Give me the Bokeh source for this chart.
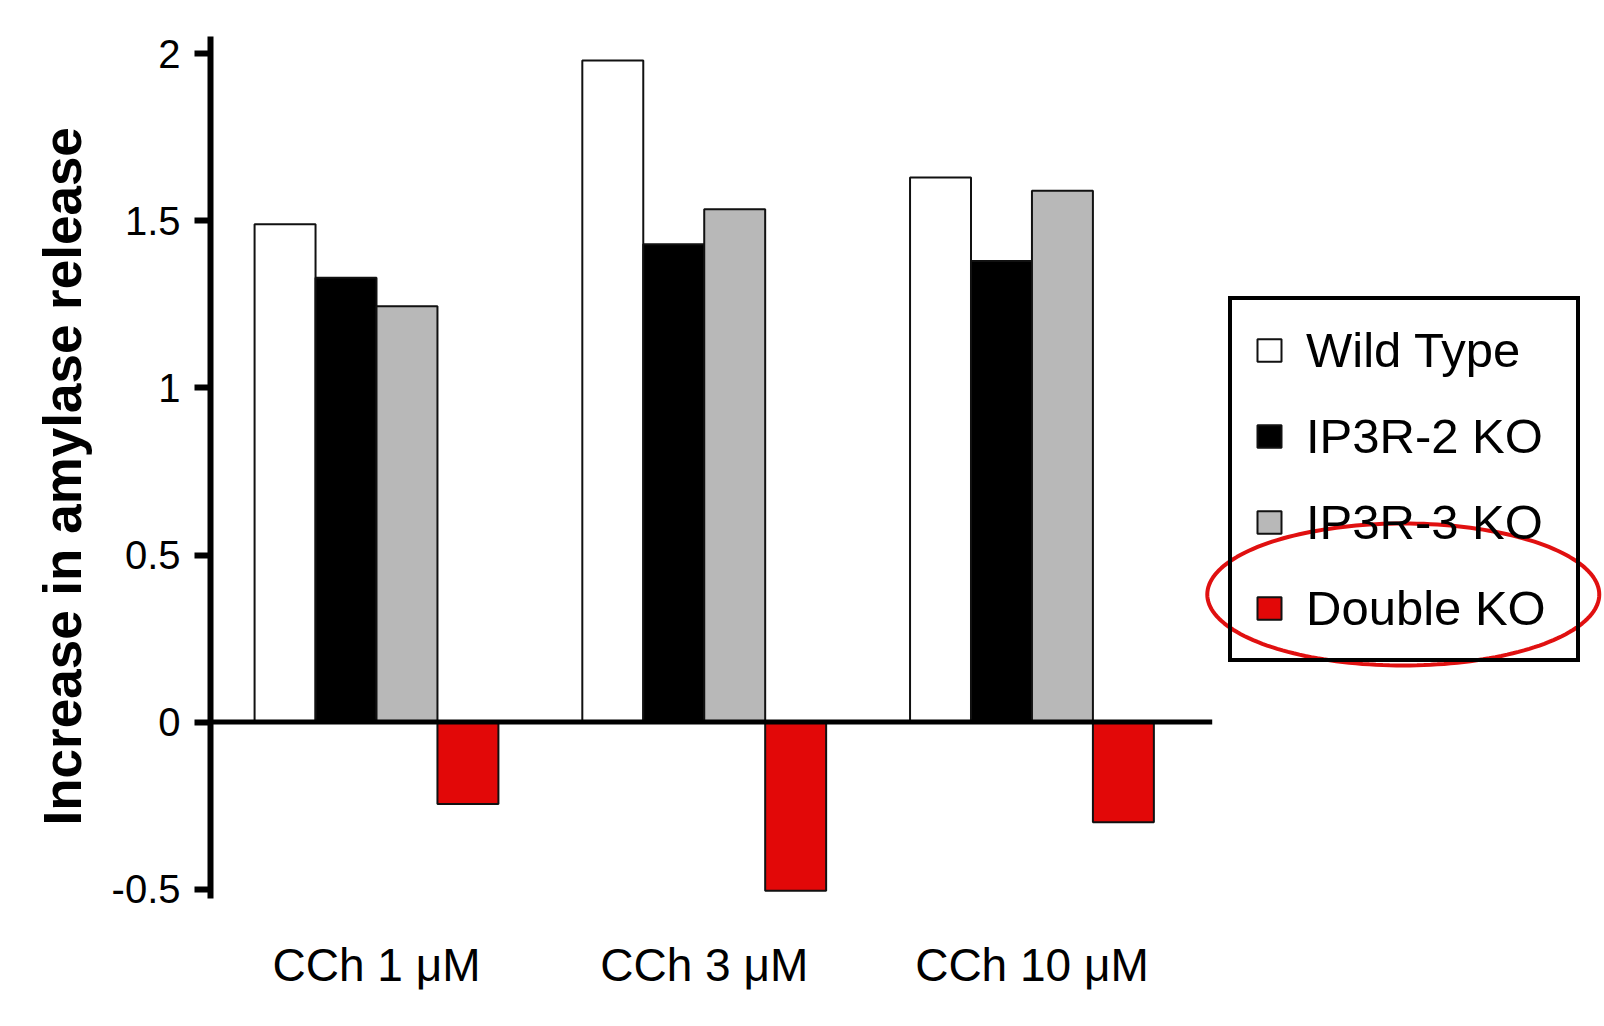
import numpy as np
from bokeh.plotting import figure
from bokeh.models import Range1d, FixedTicker, Legend, LegendItem, PolyAnnotation, Title
from bokeh.embed import file_html
from bokeh.resources import INLINE

# ---- data ----
categories = ["CCh 1 μM", "CCh 3 μM", "CCh 10 μM"]
series = ["Wild Type", "IP3R-2 KO", "IP3R-3 KO", "Double KO"]
wild_type = [1.49, 1.98, 1.63]
ip3r2_ko = [1.33, 1.43, 1.38]
ip3r3_ko = [1.245, 1.535, 1.59]
double_ko = [-0.245, -0.505, -0.30]
colors = ["#ffffff", "#000000", "#b8b8b8", "#e20808"]
y_tick_values = [-0.5, 0, 0.5, 1, 1.5, 2]
y_tick_labels = ["-0.5", "0", "0.5", "1", "1.5", "2"]

FONT = "Liberation Sans"
values = [wild_type, ip3r2_ko, ip3r3_ko, double_ko]
bar_w = 0.186

p = figure(width=1604, height=1026,
           x_range=Range1d(-0.5065, 3.747), y_range=Range1d(-0.528, 2.052),
           min_border_left=210, min_border_right=0, min_border_top=36, min_border_bottom=128,
           output_backend="svg", toolbar_location=None)
p.outline_line_color = None
p.xgrid.visible = False
p.ygrid.visible = False
p.background_fill_color = "white"

renderers = []
idx = list(range(len(categories)))
for k, (name, vals, col) in enumerate(zip(series, values, colors)):
    off = (k - 1.5) * bar_w
    xs = [i + off for i in idx]
    r = p.vbar(x=xs, top=vals, bottom=0, width=bar_w, fill_color=col,
               line_color="#111111", line_width=2)
    renderers.append(r)

# zero baseline
p.segment(x0=[-0.5065], y0=[0], x1=[2.55], y1=[0], line_color="black", line_width=5)

# axes
xa = p.xaxis[0]
xa.ticker = FixedTicker(ticks=idx)
xa.major_label_overrides = {i: c for i, c in zip(idx, categories)}
xa.axis_line_color = None
xa.major_tick_line_color = None
xa.minor_tick_line_color = None
xa.major_tick_out = 0
xa.major_tick_in = 0
xa.major_label_standoff = 40
xa.major_label_text_font = FONT
xa.major_label_text_font_size = "46px"
xa.major_label_text_color = "black"

ya = p.yaxis[0]
ya.ticker = FixedTicker(ticks=y_tick_values)
ya.major_label_overrides = {v: l for v, l in zip(y_tick_values, y_tick_labels)}
ya.axis_line_width = 6
ya.axis_line_color = "black"
ya.major_tick_line_width = 6
ya.major_tick_line_color = "black"
ya.major_tick_out = 16
ya.major_tick_in = 0
ya.minor_tick_line_color = None
ya.major_label_standoff = 14
ya.major_label_text_font = FONT
ya.major_label_text_font_size = "40px"
ya.major_label_text_color = "black"

# y-axis title (side title, starting near the bottom of the frame)
ytitle = Title(text="Increase in amylase release", align="left", offset=73,
               text_font=FONT, text_font_style="bold", text_font_size="53px",
               text_color="black", standoff=34)
p.add_layout(ytitle, "left")

legend = Legend(items=[LegendItem(label=s, renderers=[r]) for s, r in zip(series, renderers)],
                location=(1018, 236), margin=0, padding=22, spacing=30,
                glyph_width=30, glyph_height=28, label_standoff=22, label_height=50,
                label_width=248,
                label_text_font=FONT, label_text_font_size="49px", label_text_color="black",
                border_line_color="black", border_line_width=4, border_line_alpha=1.0,
                background_fill_alpha=0.0)
p.add_layout(legend)

# red highlight ellipse around "Double KO"
cx, cy = 3.133, 0.382
a = 196 / 327.75
b = 71 / 334.2
t = np.linspace(0, 2 * np.pi, 181)
ell = PolyAnnotation(xs=list(cx + a * np.cos(t)), ys=list(cy + b * np.sin(t)),
                     fill_alpha=0, line_color="#e01010", line_width=4, line_alpha=1.0)
p.add_layout(ell)

open("out.html", "w").write(file_html(p, INLINE))
